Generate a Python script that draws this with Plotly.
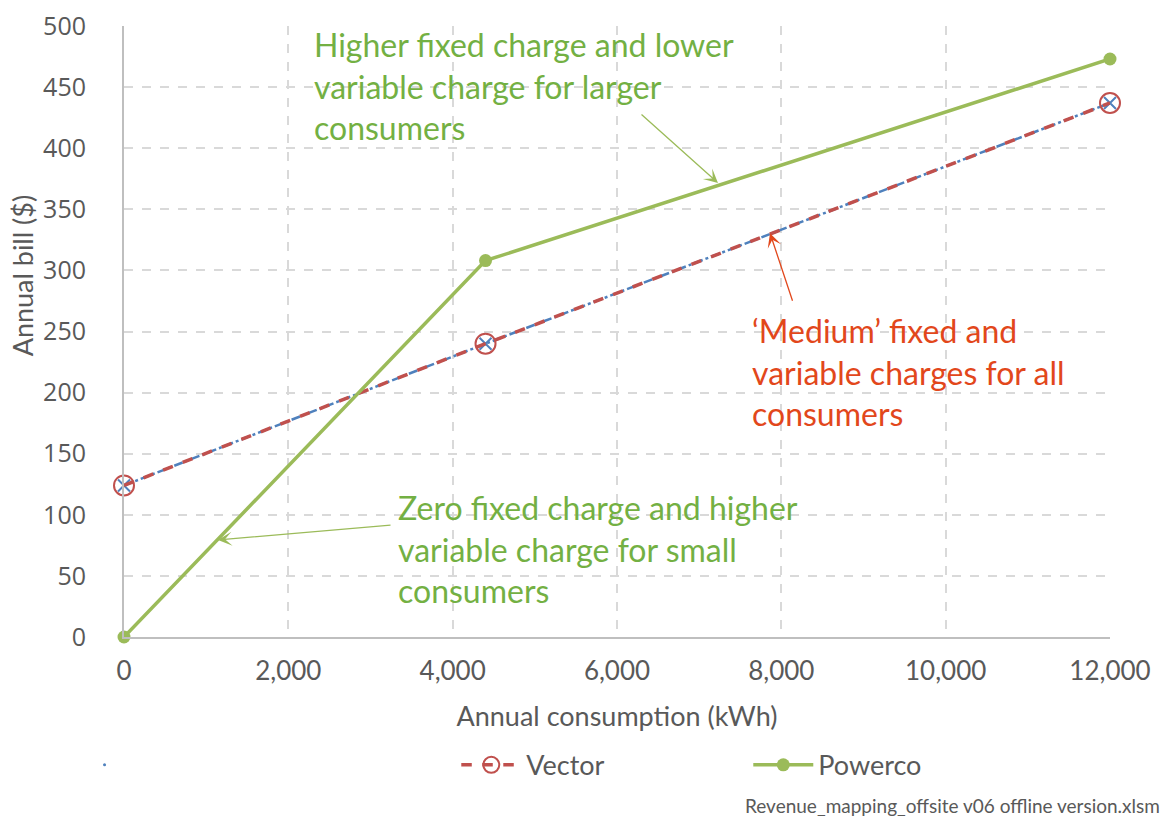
import plotly.graph_objects as go

# ---- data ----
consumption = [0, 4400, 12000]
vector_bill = [124, 240, 437]
powerco_bill = [0, 308, 473]
x_ticks = [0, 2000, 4000, 6000, 8000, 10000, 12000]
x_tick_labels = ["0", "2,000", "4,000", "6,000", "8,000", "10,000", "12,000"]
y_ticks = [0, 50, 100, 150, 200, 250, 300, 350, 400, 450, 500]

GREEN_LINE = "#9BBB59"
GREEN_TEXT = "#73B043"
RED_LINE = "#C0504D"
BLUE_LINE = "#4F81BD"
RED_TEXT = "#E2471B"
GREY = "#595959"

fig = go.Figure()

# hidden blue series underneath Vector
fig.add_trace(go.Scatter(
    x=consumption, y=vector_bill, mode="lines+markers", name="",
    line=dict(color=BLUE_LINE, width=2.5, dash="dashdot"),
    marker=dict(symbol="x-thin-open", size=12, color=BLUE_LINE, line=dict(width=2, color=BLUE_LINE)),
    showlegend=False, cliponaxis=False,
))
# tiny legend dot for the blue series
fig.add_trace(go.Scatter(
    x=[None], y=[None], mode="markers", name=" ",
    marker=dict(size=3, color=BLUE_LINE), legend="legend2",
))
fig.add_trace(go.Scatter(
    x=consumption, y=vector_bill, mode="lines+markers", name="Vector",
    line=dict(color=RED_LINE, width=3.5, dash="dash"),
    marker=dict(symbol="circle-open", size=20, color=RED_LINE, line=dict(width=2, color="#D9787A")),
    cliponaxis=False,
))
fig.add_trace(go.Scatter(
    x=consumption, y=powerco_bill, mode="lines+markers", name="Powerco",
    line=dict(color=GREEN_LINE, width=3.5),
    marker=dict(symbol="circle", size=13, color=GREEN_LINE),
    cliponaxis=False,
))

# ---- text annotations ----
blocks = [
    ("Higher fixed charge and lower<br>variable charge for larger<br>consumers", 2290, 451, GREEN_TEXT),
    ("\u2018Medium\u2019 fixed and<br>variable charges for all<br>consumers", 7620, 217, RED_TEXT),
    ("Zero fixed charge and higher<br>variable charge for small<br>consumers", 3310, 72, GREEN_TEXT),
]
for txt, x, y, c in blocks:
    fig.add_annotation(x=x, y=y, xref="x", yref="y", text=txt, showarrow=False,
                       xanchor="left", yanchor="middle", align="left",
                       font=dict(family="Lato", size=32, color=c))

# arrows (head, tail)
arrows = [
    (7229, 371.5, 6280, 428.7, GREEN_LINE),
    (7862, 330.5, 8142, 274, RED_TEXT),
    (1144, 79.4, 3262, 91.6, GREEN_LINE),
]
for hx, hy, tx, ty, c in arrows:
    fig.add_annotation(x=hx, y=hy, ax=tx, ay=ty, xref="x", yref="y", axref="x", ayref="y",
                       text="", showarrow=True, arrowhead=3, arrowsize=1.8, arrowwidth=1.3,
                       arrowcolor=c)

# y-axis title (placed like the original, slightly above centre)
fig.add_annotation(x=-0.103, y=0.591, xref="paper", yref="paper", xanchor="center", yanchor="middle",
                   text="Annual bill ($)", textangle=-90, showarrow=False,
                   font=dict(family="Lato", size=27, color=GREY))

fig.add_annotation(x=1.0527, y=-0.276, xref="paper", yref="paper", xanchor="right", yanchor="middle",
                   text="Revenue_mapping_offsite v06 offline version.xlsm", showarrow=False,
                   font=dict(family="Lato", size=19, color=GREY))

fig.update_layout(
    width=1169, height=816,
    margin=dict(l=124, r=59, t=26, b=179, autoexpand=False),
    paper_bgcolor="white", plot_bgcolor="white",
    font=dict(family="Lato", color=GREY),
    legend=dict(orientation="h", x=0.337, y=-0.21, xanchor="left", yanchor="middle",
                font=dict(family="Lato", size=27, color=GREY), entrywidth=217, itemwidth=60,
                bgcolor="rgba(0,0,0,0)"),
    legend2=dict(orientation="h", x=-0.04, y=-0.21, xanchor="left", yanchor="middle",
                 font=dict(family="Lato", size=27, color=GREY), bgcolor="rgba(0,0,0,0)"),
)
fig.update_xaxes(
    range=[0, 12000], tickvals=x_ticks, ticktext=x_tick_labels,
    showgrid=True, gridcolor="#D9D9D9", griddash="dash", gridwidth=1.5,
    showline=True, linecolor="#BFBFBF", linewidth=2, zeroline=False, automargin=False,
    ticks="", ticklabelstandoff=10,
    tickfont=dict(family="Lato", size=26, color=GREY),
    title=dict(text="Annual consumption (kWh)", font=dict(family="Lato", size=27, color=GREY), standoff=22),
)
fig.update_yaxes(
    range=[0, 500], tickvals=y_ticks,
    showgrid=True, gridcolor="#D9D9D9", griddash="dash", gridwidth=1.5,
    showline=True, linecolor="#BFBFBF", linewidth=2, zeroline=False, automargin=False,
    ticks="", ticklabelstandoff=31,
    tickfont=dict(family="Open Sans", size=25, color=GREY),
)

fig.write_html("out.html", config={"displayModeBar": False},
               post_script="document.body.style.margin='0';document.body.style.overflow='hidden';")
